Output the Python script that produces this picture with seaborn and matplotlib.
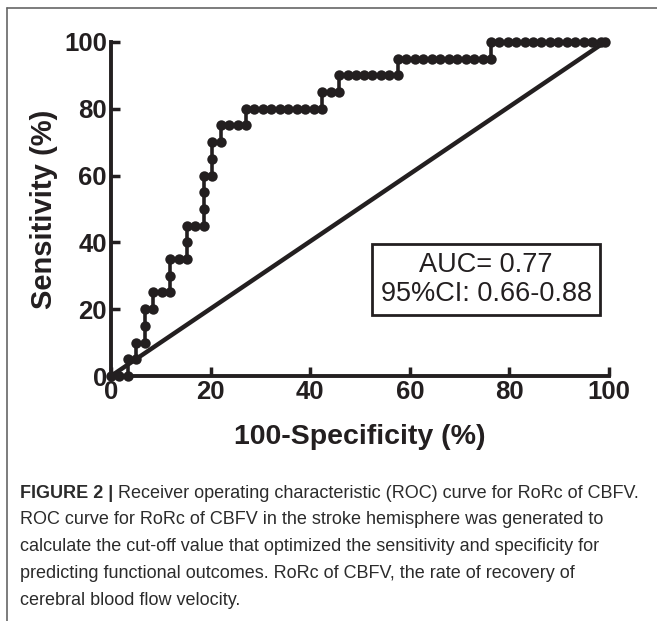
import matplotlib
matplotlib.use("Agg")
import matplotlib.pyplot as plt
import seaborn as sns
from matplotlib.lines import Line2D

# ROC points (100-specificity %, sensitivity %)
fpr_pct = [0, 1.7, 3.4, 3.4, 5.1, 5.1, 6.8, 6.8, 6.8, 8.5, 8.5, 10.2, 11.9, 11.9,
           11.9, 13.6, 15.3, 15.3, 15.3, 16.9, 18.6, 18.6, 18.6, 18.6, 20.3, 20.3,
           20.3, 22.0, 22.0, 23.7, 25.4, 27.1, 27.1, 28.8, 30.5, 32.2, 33.9, 35.6,
           37.3, 39.0, 40.7, 42.4, 42.4, 44.1, 45.8, 45.8, 47.5, 49.2, 50.8, 52.5,
           54.2, 55.9, 57.6, 57.6, 59.3, 61.0, 62.7, 64.4, 66.1, 67.8, 69.5, 71.2,
           72.9, 74.6, 76.3, 76.3, 78.0, 79.7, 81.4, 83.1, 84.7, 86.4, 88.1, 89.8,
           91.5, 93.2, 94.9, 96.6, 98.3, 99.2]
sens_pct = [0, 0, 0, 5, 5, 10, 10, 15, 20, 20, 25, 25, 25, 30,
            35, 35, 35, 40, 45, 45, 45, 50, 55, 60, 60, 65,
            70, 70, 75, 75, 75, 75, 80, 80, 80, 80, 80, 80,
            80, 80, 80, 80, 85, 85, 85, 90, 90, 90, 90, 90,
            90, 90, 90, 95, 95, 95, 95, 95, 95, 95, 95, 95,
            95, 95, 95, 100, 100, 100, 100, 100, 100, 100, 100, 100,
            100, 100, 100, 100, 100, 100]
chance_x = [0, 99.2]
chance_y = [0, 100]
ticks = [0, 20, 40, 60, 80, 100]

auc_text = "AUC= 0.77\n95%CI: 0.66-0.88"
caption_bold = "FIGURE 2 |"
caption_lines = [
    " Receiver operating characteristic (ROC) curve for RoRc of CBFV.",
    "ROC curve for RoRc of CBFV in the stroke hemisphere was generated to",
    "calculate the cut-off value that optimized the sensitivity and specificity for",
    "predicting functional outcomes. RoRc of CBFV, the rate of recovery of",
    "cerebral blood flow velocity.",
]

INK = '#231f20'

sns.set_style("ticks")
plt.rcParams['font.family'] = ['Liberation Sans', 'DejaVu Sans']

fig = plt.figure(figsize=(6.57, 6.21), dpi=100)
ax = fig.add_axes([0.169, 0.3945, 0.758, 0.538])

sns.lineplot(x=chance_x, y=chance_y, color=INK, linewidth=3.2, ax=ax)
sns.lineplot(x=fpr_pct, y=sens_pct, estimator=None, sort=False, marker='o',
             markersize=7.5, markeredgewidth=0, color=INK, linewidth=2.6,
             ax=ax, clip_on=False, zorder=5)

ax.set_xlim(0, 100)
ax.set_ylim(0, 100)
ax.set_xticks(ticks)
ax.set_yticks(ticks)
ax.tick_params(axis='both', direction='in', width=2.5, length=6.5, labelsize=18.5,
               color=INK, labelcolor=INK, pad=3)
for lab in ax.get_xticklabels() + ax.get_yticklabels():
    lab.set_fontweight('bold')
for side in ['left', 'bottom']:
    ax.spines[side].set_linewidth(2.8)
    ax.spines[side].set_color(INK)
sns.despine(ax=ax)

ax.set_xlabel('100-Specificity (%)', fontsize=20.5, fontweight='bold', color=INK, labelpad=14)
ax.set_ylabel('Sensitivity (%)', fontsize=21, fontweight='bold', color=INK, labelpad=4)

ax.text(0.753, 0.29, auc_text, transform=ax.transAxes, ha='center', va='center',
        fontsize=19.5, color=INK, linespacing=1.15,
        bbox=dict(boxstyle='square,pad=0.3', facecolor='white',
                  edgecolor=INK, linewidth=2))

# figure frame (top and left only)
fig.add_artist(Line2D([0.011, 1.0], [0.987, 0.987], transform=fig.transFigure,
                      color='#666666', linewidth=1.2))
fig.add_artist(Line2D([0.011, 0.011], [0.0, 0.987], transform=fig.transFigure,
                      color='#666666', linewidth=1.2))

# caption
cap_color = '#2b2b2b'
x0 = 20 / 657
y_first = 1 - 493 / 621
t_bold = fig.text(x0, y_first, caption_bold, fontsize=13, fontweight='bold',
                  color=cap_color, va='center', ha='left')
fig.canvas.draw()
bb = t_bold.get_window_extent(renderer=fig.canvas.get_renderer())
fig.text(bb.x1 / fig.bbox.width, y_first, caption_lines[0], fontsize=13,
         color=cap_color, va='center', ha='left')
for i, line in enumerate(caption_lines[1:], start=1):
    fig.text(x0, y_first - i * 26.8 / 621, line, fontsize=13, color=cap_color,
             va='center', ha='left')

fig.savefig('out.png', dpi=100)
